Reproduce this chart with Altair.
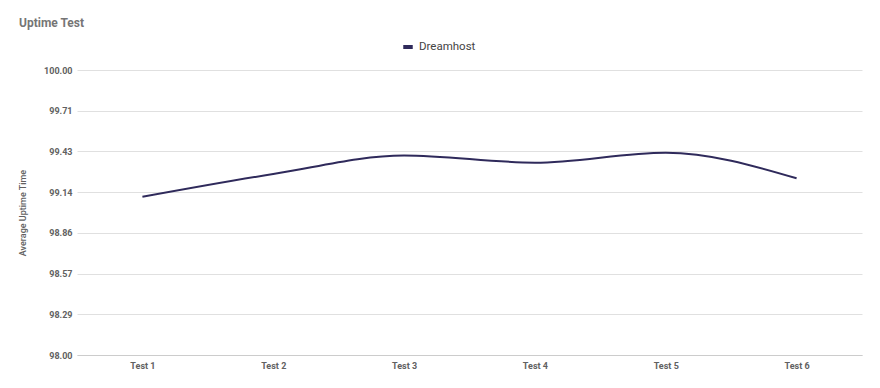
import altair as alt
import pandas as pd

tests = ["Test 1", "Test 2", "Test 3", "Test 4", "Test 5", "Test 6"]
uptime = [99.11, 99.27, 99.40, 99.35, 99.42, 99.24]
series = ["Dreamhost"] * len(tests)
y_ticks = [98.0, 98.2857, 98.5714, 98.8571, 99.1429, 99.4286, 99.7143, 100.0]

df = pd.DataFrame({"test": tests, "uptime": uptime, "host": series})

chart = alt.Chart(df).mark_line(
    interpolate="monotone", strokeWidth=2
).encode(
    x=alt.X("test:N", sort=tests, title=None,
            scale=alt.Scale(type="point", padding=0.5),
            axis=alt.Axis(labelAngle=0, labelFont="Roboto", labelFontSize=9,
                          labelColor="#616161", labelFontWeight="bold",
                          ticks=False, domainColor="#cccccc", labelPadding=6,
                          grid=False)),
    y=alt.Y("uptime:Q", title="Average Uptime Time",
            scale=alt.Scale(domain=[98, 100], nice=False, zero=False),
            axis=alt.Axis(values=y_ticks, format=".2f", labelFont="Roboto",
                          labelFontSize=9, labelColor="#616161",
                          labelFontWeight="bold", ticks=False, domain=False,
                          gridColor="#e0e0e0", labelPadding=5,
                          titleFont="Roboto", titleFontSize=9,
                          titleFontWeight=500, titleColor="#616161",
                          titlePadding=16)),
    color=alt.Color("host:N", scale=alt.Scale(range=["#2f2a5b"]),
                    legend=alt.Legend(title=None, orient="none",
                                      legendX=324, legendY=-30,
                                      direction="horizontal",
                                      symbolType="stroke", symbolStrokeWidth=4,
                                      symbolSize=90, labelFont="Roboto",
                                      labelFontSize=11.5, labelColor="#444444")),
).properties(
    width=785,
    height=285,
    title=alt.TitleParams("Uptime Test", anchor="start", frame="group",
                          dx=-58, offset=10, font="Roboto", fontSize=12,
                          fontWeight="bold", color="#757575"),
    autosize=alt.AutoSizeParams(type="none"),
    padding={"left": 69, "top": 62, "right": 10, "bottom": 20},
).configure_view(stroke=None)

chart.save("out.html", embed_options={"renderer": "svg", "actions": False})
